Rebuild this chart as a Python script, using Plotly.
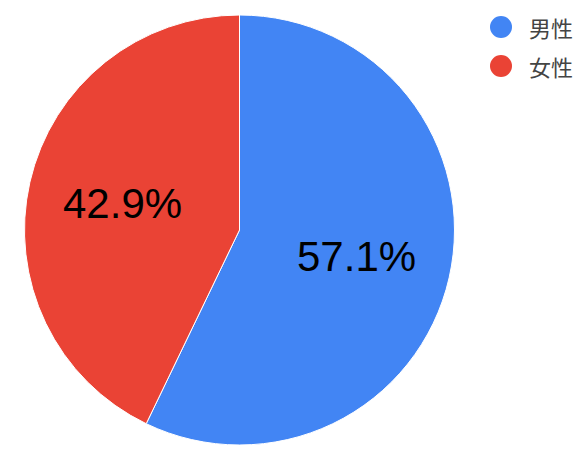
import math
import plotly.graph_objects as go

labels = ["男性", "女性"]
values = [4, 3]
colors = ["#4285F4", "#EA4335"]

W, H = 586, 463
OFF = 8  # default page body margin in the written html

def px_x(x):
    return (x - OFF) / W

def px_y(y):
    return (H - (y - OFF)) / H

cx, cy, R = 239.5, 230, 215

fig = go.Figure()
fig.add_trace(go.Pie(
    labels=labels, values=values,
    marker=dict(colors=colors, line=dict(color="white", width=1)),
    sort=False, direction="clockwise", rotation=0,
    textinfo="none",
    domain=dict(x=[px_x(cx - R), px_x(cx + R)], y=[px_y(cy + R), px_y(cy - R)]),
    showlegend=False, hoverinfo="label+percent",
))

shapes, annots = [], []
# percentage labels placed along each slice's bisector
total = sum(values)
start = 0.0
for v in values:
    frac = v / total
    mid = (start + frac / 2) * 2 * math.pi
    start += frac
    lx = cx + 0.56 * R * math.sin(mid)
    ly = cy - 0.56 * R * math.cos(mid)
    annots.append(dict(xref="paper", yref="paper", x=px_x(lx), y=px_y(ly),
                       xanchor="center", yanchor="middle", showarrow=False,
                       text=f"{frac * 100:.1f}%",
                       font=dict(family="Liberation Sans, Arial", size=42, color="black")))

# legend with circle markers built from the category lists
for i, (lab, col) in enumerate(zip(labels, colors)):
    ly = 27 + i * 39
    shapes.append(dict(type="circle", xref="paper", yref="paper",
                       x0=px_x(501 - 11), x1=px_x(501 + 11),
                       y0=px_y(ly + 11), y1=px_y(ly - 11),
                       fillcolor=col, line=dict(width=0)))
    annots.append(dict(xref="paper", yref="paper", x=px_x(527), y=px_y(ly),
                       xanchor="left", yanchor="middle", showarrow=False,
                       text=lab, font=dict(family="Noto Sans CJK JP", size=22, color="#444444")))

fig.update_layout(
    width=W, height=H, margin=dict(l=0, r=0, t=0, b=0),
    paper_bgcolor="white", plot_bgcolor="white",
    shapes=shapes, annotations=annots,
)
fig.write_html("out.html")
